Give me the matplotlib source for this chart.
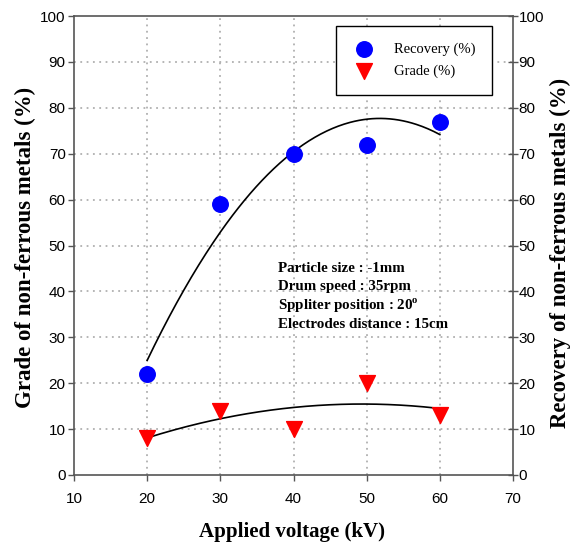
import numpy as np
import matplotlib
matplotlib.use("Agg")
import matplotlib.pyplot as plt

voltage = [20, 30, 40, 50, 60]
recovery = [22, 59, 70, 72, 77]
grade = [8, 14, 10, 20, 13]
xticks = [10, 20, 30, 40, 50, 60, 70]
yticks = [0, 10, 20, 30, 40, 50, 60, 70, 80, 90, 100]
notes = ["Particle size : -1mm", "Drum speed : 35rpm",
         "Sppliter position : 20$^{\\mathregular{o}}$", "Electrodes distance : 15cm"]

fig = plt.figure(figsize=(5.72, 5.49), dpi=100)
ax = fig.add_axes([74/572, 1-475/549, (513-74)/572, (475-16)/549])
ax.set_xlim(10, 70)
ax.set_ylim(0, 100)

sans = "Liberation Sans"
serif = "Liberation Serif"

ax.set_xticks(xticks)
ax.set_yticks(yticks)
ax.set_xticklabels([str(v) for v in xticks], fontfamily=sans, fontsize=11)
ax.set_yticklabels([str(v) for v in yticks], fontfamily=sans, fontsize=11)
ax.tick_params(axis='both', direction='out', length=4, width=1, color='#555555', pad=2)
ax.tick_params(axis='x', pad=8)

for v in xticks[1:-1]:
    ax.axvline(v, color='#b0b0b0', ls=(0, (1, 2.5)), lw=1.3, zorder=0)
for v in yticks[1:-1]:
    ax.axhline(v, color='#b0b0b0', ls=(0, (1, 2.5)), lw=1.3, zorder=0)

for s in ['left', 'bottom', 'right', 'top']:
    ax.spines[s].set_color('#555555')
    ax.spines[s].set_linewidth(1.2)

xx = np.linspace(min(voltage), max(voltage), 200)
pr = np.polyfit(voltage, recovery, 2)
pg = np.polyfit(voltage, grade, 2)
ax.plot(xx, np.polyval(pr, xx), color='black', lw=1.2, zorder=2)
ax.plot(xx, np.polyval(pg, xx), color='black', lw=1.2, zorder=2)

ax.scatter(voltage, recovery, s=125, marker='o', color='#0000ff', zorder=3, label='Recovery (%)')
ax.scatter(voltage, grade, s=130, marker='v', color='#ff0000', zorder=3, label='Grade (%)')

leg = ax.legend(loc='upper right', bbox_to_anchor=(492/572, 1-26/549), bbox_transform=fig.transFigure,
                frameon=True, fancybox=False, edgecolor='black', framealpha=1,
                prop={'family': serif, 'size': 10.5}, borderpad=1.1, labelspacing=0.65,
                handletextpad=1.3, borderaxespad=0, handlelength=1.6)
leg.get_frame().set_linewidth(1.0)

ax2 = ax.twinx()
ax2.set_ylim(0, 100)
ax2.set_yticks(yticks)
ax2.set_yticklabels([str(v) for v in yticks], fontfamily=sans, fontsize=11)
ax2.tick_params(axis='y', direction='inout', length=7, width=1, color='#555555', pad=0.5)
for s in ['left', 'bottom', 'right', 'top']:
    ax2.spines[s].set_visible(False)

fig.text(292/572, 1-532/549, "Applied voltage (kV)", fontfamily=serif, fontweight='bold',
         fontsize=15, ha='center', va='center')
fig.text(25/572, 1-247/549, "Grade of non-ferrous metals (%)", fontfamily=serif, fontweight='bold',
         fontsize=16.5, ha='center', va='center', rotation=90)
fig.text(560/572, 1-253/549, "Recovery of non-ferrous metals (%)", fontfamily=serif, fontweight='bold',
         fontsize=16.5, ha='center', va='center', rotation=90)

for i, t in enumerate(notes):
    fig.text(278/572, 1-(268+i*18.7)/549, t, fontfamily=serif, fontweight='bold', fontsize=10.8,
             va='center', ha='left')

fig.savefig("out.png", dpi=100)
